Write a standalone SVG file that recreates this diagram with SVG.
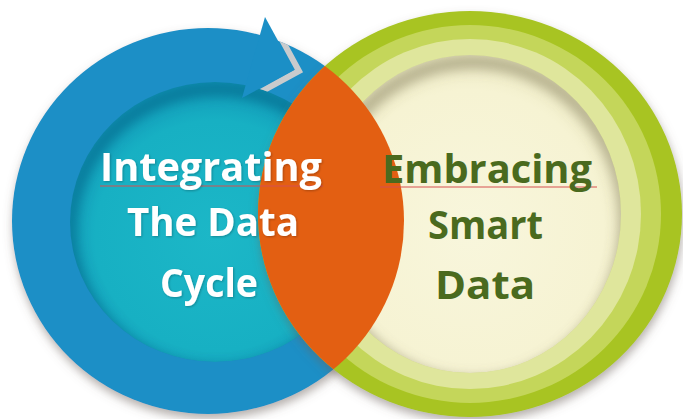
<svg xmlns="http://www.w3.org/2000/svg" width="683" height="419" viewBox="0 0 683 419">
  <style>
    .lbl { font-family: "Open Sans", "Liberation Sans", sans-serif; font-weight: 700; font-size: 40px; text-anchor: middle; }
    .white { fill: #ffffff; }
    .green { fill: #4a6a1e; }
    .squiggle { stroke: #d65050; stroke-width: 1; fill: none; }
  </style>
  <defs>
    <filter id="drop" x="-15%" y="-15%" width="135%" height="135%">
      <feDropShadow dx="1" dy="5" stdDeviation="5" flood-color="#6b6058" flood-opacity="0.5"/>
    </filter>
    <filter id="blur6" x="-20%" y="-20%" width="140%" height="140%">
      <feGaussianBlur stdDeviation="6"/>
    </filter>
    <filter id="txtShadow" x="-10%" y="-20%" width="120%" height="150%">
      <feDropShadow dx="1" dy="1" stdDeviation="1" flood-color="#000" flood-opacity="0.25"/>
    </filter>
    <clipPath id="blueClip"><ellipse cx="208" cy="221" rx="196" ry="193"/></clipPath>
    <clipPath id="tealClip"><ellipse cx="215" cy="222" rx="145" ry="140"/></clipPath>
    <clipPath id="paleClip"><ellipse cx="470" cy="214" rx="151" ry="159"/></clipPath>
    <radialGradient id="tealGrad" cx="0.5" cy="0.55" r="0.55">
      <stop offset="0" stop-color="#1cb7c7"/>
      <stop offset="0.75" stop-color="#17b0c3"/>
      <stop offset="1" stop-color="#1097b8"/>
    </radialGradient>
    <radialGradient id="paleGrad" cx="0.5" cy="0.55" r="0.55">
      <stop offset="0" stop-color="#f8f6dc"/>
      <stop offset="0.8" stop-color="#f6f3d3"/>
      <stop offset="1" stop-color="#ece9c2"/>
    </radialGradient>
  </defs>

  <rect x="0" y="0" width="683" height="419" fill="#ffffff"/>

  <!-- Left node: blue cycle ring with arrow -->
  <g id="node-cycle">
    <ellipse cx="208" cy="221" rx="196" ry="193" fill="#1b8fc6" filter="url(#drop)"/>
    <polyline points="268,14 299,71 244,101" fill="none" stroke="#c9cbcd" stroke-width="6" stroke-linejoin="miter" clip-path="url(#blueClip)"/>
    <g clip-path="url(#tealClip)">
      <ellipse cx="215" cy="222" rx="145" ry="140" fill="url(#tealGrad)"/>
      <ellipse cx="217" cy="231" rx="147" ry="142" fill="none" stroke="#0a5d80" stroke-opacity="0.55" stroke-width="14" filter="url(#blur6)"/>
    </g>
    <polygon points="265,17 294,70 242,98" fill="#1b8fc6"/>
  </g>

  <!-- Right node: green concentric rings -->
  <g id="node-smart">
    <ellipse cx="470" cy="214" rx="212" ry="203" fill="#a8c422" filter="url(#drop)"/>
    <ellipse cx="470" cy="214" rx="191" ry="189" fill="#c4d65a"/>
    <ellipse cx="470" cy="214" rx="171" ry="175" fill="#dfe69c"/>
    <g clip-path="url(#paleClip)">
      <ellipse cx="470" cy="214" rx="151" ry="159" fill="url(#paleGrad)"/>
      <ellipse cx="473" cy="223" rx="153" ry="161" fill="none" stroke="#7d7555" stroke-opacity="0.5" stroke-width="14" filter="url(#blur6)"/>
    </g>
  </g>

  <!-- Overlap node: orange lens -->
  <g id="node-overlap">
    <ellipse cx="470" cy="214" rx="212" ry="203" fill="#e35f12" clip-path="url(#blueClip)"/>
  </g>

  <g id="connectors"></g>

  <!-- Labels -->
  <g id="label-cycle">
    <line class="squiggle" x1="100" y1="186" x2="323" y2="186"/>
    <g filter="url(#txtShadow)">
      <text class="lbl white" x="211" y="181" textLength="222" lengthAdjust="spacingAndGlyphs">Integrating</text>
      <text class="lbl white" x="213" y="236" textLength="172" lengthAdjust="spacingAndGlyphs">The Data</text>
      <text class="lbl white" x="209" y="297" textLength="98" lengthAdjust="spacingAndGlyphs">Cycle</text>
    </g>
  </g>
  <g id="label-smart">
    <line class="squiggle" x1="380" y1="187" x2="597" y2="187"/>
    <text class="lbl green" x="487" y="183" textLength="210" lengthAdjust="spacingAndGlyphs">Embracing</text>
    <text class="lbl green" x="485.5" y="239" textLength="115" lengthAdjust="spacingAndGlyphs">Smart</text>
    <text class="lbl green" x="485" y="299" textLength="100" lengthAdjust="spacingAndGlyphs">Data</text>
  </g>
</svg>
